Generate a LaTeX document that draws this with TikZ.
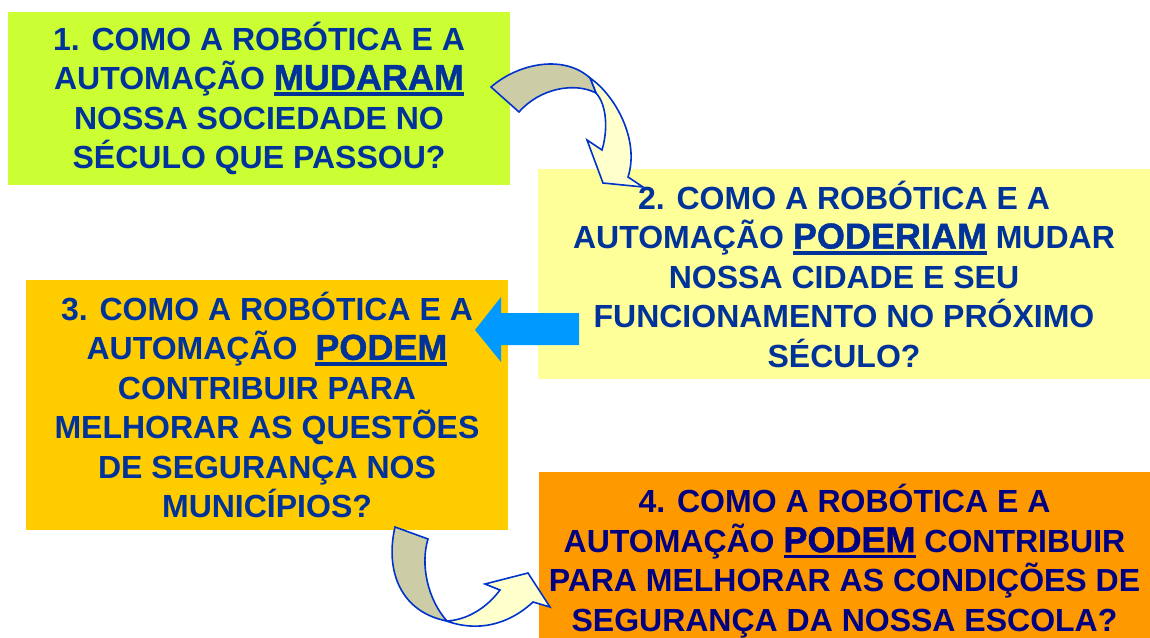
\documentclass[tikz,border=0pt]{standalone}
\usepackage{fontspec}
\setmainfont{Liberation Sans}
\newfontfamily\keywordfont[FakeBold=1.3]{Liberation Sans}
\usetikzlibrary{positioning}

\definecolor{limebox}{HTML}{CCFF33}
\definecolor{paleyellow}{HTML}{FFFF99}
\definecolor{goldbox}{HTML}{FFCC00}
\definecolor{orangebox}{HTML}{FF9900}
\definecolor{questionblue}{HTML}{003399}
\definecolor{questionnavy}{HTML}{000080}
\definecolor{arrowblue}{HTML}{0099FF}
\definecolor{ribbonblue}{HTML}{0033CC}
\definecolor{ribbongray}{HTML}{CCCCA6}
\definecolor{ribbonyellow}{HTML}{FFFFCC}

\newcommand{\keyword}[1]{\setbox0\hbox{\keywordfont\fontsize{36}{40}\selectfont #1}\rlap{\rule[-6pt]{\wd0}{3.5pt}}\box0\relax}
\newcommand{\questionfont}{\fontsize{32}{39.5}\selectfont\bfseries}

\tikzstyle{question} = [rectangle, inner sep=0pt, align=center, text centered, font=\questionfont]
\tikzstyle{ribbon} = [draw=ribbonblue, line width=1.6pt, line join=miter]

\begin{document}
\begin{tikzpicture}[x=1pt, y=-1pt]
\useasboundingbox (0,0) rectangle (1150,637);

% Question boxes
\node (mudaram) [question, fill=limebox, minimum width=502pt, minimum height=173pt, text=questionblue] at (259,98.5)
  {1. COMO A ROBÓTICA E A\\AUTOMAÇÃO \keyword{MUDARAM}\\NOSSA SOCIEDADE NO\\SÉCULO QUE PASSOU?};
\node (poderiam) [question, fill=paleyellow, minimum width=612pt, minimum height=210pt, text=questionblue] at (844,274)
  {2. COMO A ROBÓTICA E A\\AUTOMAÇÃO \keyword{PODERIAM} MUDAR\\NOSSA CIDADE E SEU\\FUNCIONAMENTO NO PRÓXIMO\\SÉCULO?};
\node (municipios) [question, fill=goldbox, minimum width=482pt, minimum height=250pt, text=questionblue] at (267,405)
  {3. COMO A ROBÓTICA E A\\AUTOMAÇÃO~~\keyword{PODEM}\\CONTRIBUIR PARA\\MELHORAR AS QUESTÕES\\DE SEGURANÇA NOS\\MUNICÍPIOS?};
\node (escola) [question, fill=orangebox, minimum width=611pt, minimum height=178pt, text=questionnavy] at (844.5,561)
  {4. COMO A ROBÓTICA E A\\AUTOMAÇÃO \keyword{PODEM} CONTRIBUIR\\PARA MELHORAR AS CONDIÇÕES DE\\SEGURANÇA DA NOSSA ESCOLA?};

% Curved arrow 1 -> 2
\filldraw[ribbon, fill=ribbonyellow] (590,78) .. controls (615,95) and (640,140) .. (628,177) -- (643,187) -- (603,183) -- (587,140) -- (602,150) .. controls (608,130) and (607,105) .. (596,93) -- cycle;
\filldraw[ribbon, fill=ribbongray] (491,87) .. controls (520,62) and (565,55) .. (590,78) -- (596,93) .. controls (575,82) and (540,88) .. (519,112) -- cycle;

% Block arrow 2 -> 3
\fill[arrowblue] (579,313) -- (501,313) -- (501,297) -- (475,330) -- (501,362) -- (501,345) -- (579,345) -- cycle;

% Curved arrow 3 -> 4
\filldraw[ribbon, fill=ribbonyellow] (437,617) .. controls (470,633) and (505,628) .. (533,602) -- (550,607) -- (528,573) -- (485,584) -- (500,590) .. controls (485,610) and (465,620) .. (447,621) -- cycle;
\filldraw[ribbon, fill=ribbongray] (395,527) .. controls (385,570) and (400,612) .. (447,621) .. controls (428,600) and (420,565) .. (428,539) -- cycle;

\end{tikzpicture}
\end{document}
